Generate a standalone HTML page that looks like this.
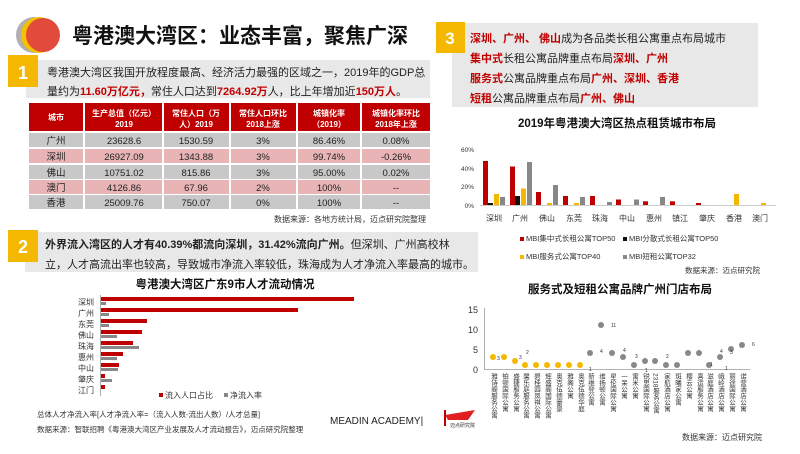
<!DOCTYPE html>
<html><head><meta charset="utf-8"><style>
body{margin:0;width:800px;height:449px;overflow:hidden;background:#fff;font-family:"Liberation Sans","Noto Sans CJK SC",sans-serif;}
svg text{font-family:"Liberation Sans","Noto Sans CJK SC",sans-serif;}
.v{writing-mode:vertical-rl;}
</style></head><body>
<svg width="800" height="449" viewBox="0 0 800 449" xmlns="http://www.w3.org/2000/svg">
<circle cx="34" cy="35" r="18" fill="#b0b0b0"/>
<circle cx="39" cy="35" r="18" fill="#f5c000"/>
<circle cx="43" cy="35" r="17" fill="#e24a3c"/>
<text x="72" y="43" font-size="21" font-weight="bold" fill="#111">粤港澳大湾区：业态丰富，聚焦广深</text>
<rect x="26" y="60" width="404" height="38" fill="#e8e8e8"/>
<rect x="8" y="55" width="30" height="32" fill="#f5b800"/>
<text x="23" y="79" font-size="18" font-weight="bold" fill="#fff" text-anchor="middle">1</text>
<text x="47" y="76" font-size="11" fill="#222">粤港澳大湾区我国开放程度最高、经济活力最强的区域之一，2019年的GDP总</text>
<text x="47" y="95" font-size="11" fill="#222">量约为<tspan fill="#c00000" font-weight="bold">11.60万亿元，</tspan>常住人口达到<tspan fill="#c00000" font-weight="bold">7264.92万</tspan>人，比上年增加近<tspan fill="#c00000" font-weight="bold">150万人</tspan>。</text>
<g font-size="8" font-weight="bold" fill="#fff" text-anchor="middle">
<rect x="29" y="103" width="54" height="28" fill="#c00000"/><text x="56" y="120">城市</text>
<rect x="85" y="103" width="77" height="28" fill="#c00000"/><text x="124" y="116">生产总值（亿元）</text><text x="124" y="127">2019</text>
<rect x="164" y="103" width="65" height="28" fill="#c00000"/><text x="196" y="116">常住人口（万</text><text x="196" y="127">人）2019</text>
<rect x="231" y="103" width="65" height="28" fill="#c00000"/><text x="263" y="116">常住人口环比</text><text x="263" y="127">2018上涨</text>
<rect x="298" y="103" width="62" height="28" fill="#c00000"/><text x="329" y="116">城镇化率</text><text x="329" y="127">（2019）</text>
<rect x="362" y="103" width="68" height="28" fill="#c00000"/><text x="396" y="116">城镇化率环比</text><text x="396" y="127">2018年上涨</text>
</g>
<g font-size="9.5" fill="#222" text-anchor="middle">
<g fill="#c8c8c8"><rect x="29" y="133" width="54" height="14"/><rect x="85" y="133" width="77" height="14"/><rect x="164" y="133" width="65" height="14"/><rect x="231" y="133" width="65" height="14"/><rect x="298" y="133" width="62" height="14"/><rect x="362" y="133" width="68" height="14"/></g>
<g fill="#e8b4b6"><rect x="29" y="149" width="54" height="14"/><rect x="85" y="149" width="77" height="14"/><rect x="164" y="149" width="65" height="14"/><rect x="231" y="149" width="65" height="14"/><rect x="298" y="149" width="62" height="14"/><rect x="362" y="149" width="68" height="14"/></g>
<g fill="#c8c8c8"><rect x="29" y="165" width="54" height="14"/><rect x="85" y="165" width="77" height="14"/><rect x="164" y="165" width="65" height="14"/><rect x="231" y="165" width="65" height="14"/><rect x="298" y="165" width="62" height="14"/><rect x="362" y="165" width="68" height="14"/></g>
<g fill="#e8b4b6"><rect x="29" y="180" width="54" height="14"/><rect x="85" y="180" width="77" height="14"/><rect x="164" y="180" width="65" height="14"/><rect x="231" y="180" width="65" height="14"/><rect x="298" y="180" width="62" height="14"/><rect x="362" y="180" width="68" height="14"/></g>
<g fill="#c8c8c8"><rect x="29" y="195" width="54" height="14"/><rect x="85" y="195" width="77" height="14"/><rect x="164" y="195" width="65" height="14"/><rect x="231" y="195" width="65" height="14"/><rect x="298" y="195" width="62" height="14"/><rect x="362" y="195" width="68" height="14"/></g>
<text x="56" y="144">广州</text><text x="124" y="144">23628.6</text><text x="196" y="144">1530.59</text><text x="263" y="144">3%</text><text x="329" y="144">86.46%</text><text x="396" y="144">0.08%</text>
<text x="56" y="160">深圳</text><text x="124" y="160">26927.09</text><text x="196" y="160">1343.88</text><text x="263" y="160">3%</text><text x="329" y="160">99.74%</text><text x="396" y="160">-0.26%</text>
<text x="56" y="176">佛山</text><text x="124" y="176">10751.02</text><text x="196" y="176">815.86</text><text x="263" y="176">3%</text><text x="329" y="176">95.00%</text><text x="396" y="176">0.02%</text>
<text x="56" y="191">澳门</text><text x="124" y="191">4126.86</text><text x="196" y="191">67.96</text><text x="263" y="191">2%</text><text x="329" y="191">100%</text><text x="396" y="191">--</text>
<text x="56" y="206">香港</text><text x="124" y="206">25009.76</text><text x="196" y="206">750.07</text><text x="263" y="206">0%</text><text x="329" y="206">100%</text><text x="396" y="206">--</text>
</g>
<text x="426" y="222" font-size="8" fill="#333" text-anchor="end">数据来源：各地方统计局，迈点研究院整理</text>
<rect x="25" y="232" width="453" height="40" fill="#e8e8e8"/>
<rect x="8" y="230" width="30" height="32" fill="#f5b800"/>
<text x="23" y="253" font-size="18" font-weight="bold" fill="#fff" text-anchor="middle">2</text>
<text x="45" y="248" font-size="11" fill="#222"><tspan font-weight="bold">外界流入湾区的人才有40.39%都流向深圳，31.42%流向广州。</tspan>但深圳、广州高校林</text>
<text x="45" y="268" font-size="11" fill="#222">立，人才高流出率也较高，导致城市净流入率较低，珠海成为人才净流入率最高的城市。</text>
<text x="225" y="288" font-size="11.5" font-weight="bold" fill="#111" text-anchor="middle">粤港澳大湾区广东9市人才流动情况</text>
<line x1="100.5" y1="295" x2="100.5" y2="396" stroke="#999" stroke-width="0.8"/>
<g font-size="8" fill="#333" text-anchor="end">
<text x="94" y="305">深圳</text><text x="94" y="316">广州</text><text x="94" y="327">东莞</text><text x="94" y="338">佛山</text><text x="94" y="349">珠海</text><text x="94" y="360">惠州</text><text x="94" y="371">中山</text><text x="94" y="382">肇庆</text><text x="94" y="393">江门</text>
</g>
<g fill="#c00000">
<rect x="101" y="297" width="253" height="4"/><rect x="101" y="308" width="197" height="4"/><rect x="101" y="319" width="46" height="4"/><rect x="101" y="330" width="41" height="4"/><rect x="101" y="341" width="32" height="4"/><rect x="101" y="352" width="22" height="4"/><rect x="101" y="363" width="18" height="4"/><rect x="101" y="374" width="4" height="4"/><rect x="101" y="385" width="4" height="4"/>
</g>
<g fill="#888">
<rect x="101" y="302" width="5" height="3"/><rect x="101" y="313" width="8" height="3"/><rect x="101" y="324" width="8" height="3"/><rect x="101" y="335" width="16" height="3"/><rect x="101" y="346" width="38" height="3"/><rect x="101" y="357" width="16" height="3"/><rect x="101" y="368" width="17" height="3"/><rect x="101" y="379" width="11" height="3"/>
</g>
<rect x="159" y="393" width="4" height="4" fill="#c00000"/><text x="165" y="398" font-size="8" fill="#333">流入人口占比</text>
<rect x="224" y="393" width="4" height="4" fill="#888"/><text x="230" y="398" font-size="8" fill="#333">净流入率</text>
<text x="37" y="417" font-size="7.5" fill="#333">总体人才净流入率[人才净流入率=（流入人数-流出人数）/人才总量]</text>
<text x="37" y="432" font-size="7.5" fill="#333">数据来源：智联招聘《粤港澳大湾区产业发展及人才流动报告》，迈点研究院整理</text>
<text x="330" y="424" font-size="10" fill="#222">MEADIN ACADEMY|</text>
<rect x="452" y="23" width="306" height="84" fill="#e8e8e8"/>
<rect x="436" y="22" width="29" height="31" fill="#f5b800"/>
<text x="450" y="44" font-size="17" font-weight="bold" fill="#fff" text-anchor="middle">3</text>
<g font-size="11" fill="#222">
<text x="470" y="42"><tspan fill="#c00000" font-weight="bold">深圳、广州、 佛山</tspan>成为各品类长租公寓重点布局城市</text>
<text x="470" y="62"><tspan fill="#c00000" font-weight="bold">集中式</tspan>长租公寓品牌重点布局<tspan fill="#c00000" font-weight="bold">深圳、广州</tspan></text>
<text x="470" y="82"><tspan fill="#c00000" font-weight="bold">服务式</tspan>公寓品牌重点布局<tspan fill="#c00000" font-weight="bold">广州、深圳、香港</tspan></text>
<text x="470" y="102"><tspan fill="#c00000" font-weight="bold">短租</tspan>公寓品牌重点布局<tspan fill="#c00000" font-weight="bold">广州、佛山</tspan></text>
</g>
<text x="617" y="127" font-size="11.5" font-weight="bold" fill="#111" text-anchor="middle">2019年粤港澳大湾区热点租赁城市布局</text>
<g font-size="6.5" fill="#333" text-anchor="end">
<text x="474" y="152">60%</text><text x="474" y="171">40%</text><text x="474" y="189">20%</text><text x="474" y="208">0%</text>
</g>
<line x1="480" y1="205.5" x2="776" y2="205.5" stroke="#bbb" stroke-width="0.8"/>
<g fill="#c00000">
<rect x="483" y="161" width="5" height="44"/><rect x="510" y="166.5" width="5" height="38.5"/><rect x="536" y="192" width="5" height="13"/><rect x="563" y="196" width="5" height="9"/><rect x="590" y="196" width="5" height="9"/><rect x="616" y="199.5" width="5" height="5.5"/><rect x="643" y="201.3" width="5" height="3.7"/><rect x="670" y="201.3" width="5" height="3.7"/><rect x="696" y="203" width="5" height="2"/>
</g>
<g fill="#111"><rect x="488" y="203" width="5" height="2"/><rect x="515" y="196" width="5" height="9"/></g>
<g fill="#f5b800">
<rect x="494" y="194" width="5" height="11"/><rect x="521" y="188.5" width="5" height="16.5"/><rect x="547" y="203" width="5" height="2"/><rect x="574" y="203" width="5" height="2"/><rect x="734" y="194" width="5" height="11"/><rect x="761" y="203" width="5" height="2"/>
</g>
<g fill="#888">
<rect x="500" y="197" width="5" height="8"/><rect x="527" y="162" width="5" height="43"/><rect x="553" y="185" width="5" height="20"/><rect x="580" y="197" width="5" height="8"/><rect x="607" y="202" width="5" height="3"/><rect x="634" y="199.5" width="5" height="5.5"/><rect x="660" y="197" width="5" height="8"/>
</g>
<g font-size="8" fill="#333" text-anchor="middle">
<text x="494" y="221">深圳</text><text x="520" y="221">广州</text><text x="547" y="221">佛山</text><text x="574" y="221">东莞</text><text x="600" y="221">珠海</text><text x="627" y="221">中山</text><text x="654" y="221">惠州</text><text x="680" y="221">镇江</text><text x="707" y="221">肇庆</text><text x="734" y="221">香港</text><text x="760" y="221">澳门</text>
</g>
<g font-size="7.5" fill="#333">
<rect x="520" y="237" width="4" height="4" fill="#c00000"/><text x="526" y="241">MBI集中式长租公寓TOP50</text>
<rect x="623" y="237" width="4" height="4" fill="#111"/><text x="629" y="241">MBI分散式长租公寓TOP50</text>
<rect x="520" y="255" width="4" height="4" fill="#f5b800"/><text x="526" y="259">MBI服务式公寓TOP40</text>
<rect x="623" y="255" width="4" height="4" fill="#888"/><text x="629" y="259">MBI短租公寓TOP32</text>
<text x="685" y="273">数据来源：迈点研究院</text>
</g>
<text x="620" y="293" font-size="11.5" font-weight="bold" fill="#111" text-anchor="middle">服务式及短租公寓品牌广州门店布局</text>
<g font-size="9" fill="#333" text-anchor="end">
<text x="478" y="313">15</text><text x="478" y="333">10</text><text x="478" y="353">5</text><text x="478" y="373">0</text>
</g>
<line x1="484.5" y1="308" x2="484.5" y2="369" stroke="#999" stroke-width="0.8"/>
<line x1="484" y1="369.5" x2="750" y2="369.5" stroke="#999" stroke-width="0.8"/>
<g fill="#f5b800">
<circle cx="493" cy="357" r="3"/><circle cx="504" cy="357" r="3"/><circle cx="515" cy="361" r="3"/><circle cx="525" cy="365" r="3"/><circle cx="536" cy="365" r="3"/><circle cx="547" cy="365" r="3"/><circle cx="558" cy="365" r="3"/><circle cx="569" cy="365" r="3"/><circle cx="580" cy="365" r="3"/>
</g>
<g fill="#888">
<circle cx="590" cy="353" r="3"/><circle cx="601" cy="325" r="3"/><circle cx="612" cy="353" r="3"/><circle cx="623" cy="357" r="3"/><circle cx="634" cy="365" r="3"/><circle cx="645" cy="361" r="3"/><circle cx="655" cy="361" r="3"/><circle cx="666" cy="365" r="3"/><circle cx="677" cy="365" r="3"/><circle cx="688" cy="353" r="3"/><circle cx="699" cy="353" r="3"/><circle cx="709" cy="365" r="3"/><circle cx="720" cy="357" r="3"/><circle cx="731" cy="349" r="3"/><circle cx="742" cy="345" r="3"/>
</g>
<g font-size="5" fill="#333">
<text x="497" y="360">3</text><text x="519" y="359">3</text><text x="526" y="354">2</text><text x="589" y="371">1</text><text x="600" y="353">4</text><text x="611" y="327">11</text><text x="623" y="352">4</text><text x="635" y="358">3</text><text x="645" y="372">1</text><text x="666" y="358">2</text><text x="710" y="366">1</text><text x="720" y="353">4</text><text x="725" y="370">1</text><text x="730" y="354">3</text><text x="752" y="346">6</text>
</g>
<g font-size="6.5" fill="#333">
<text class="v" x="493" y="373">雅诗阁服务公寓</text><text class="v" x="504" y="373">铂顿国际公寓</text><text class="v" x="515" y="373">盛捷服务公寓</text><text class="v" x="525" y="373">馨乐庭服务公寓</text><text class="v" x="536" y="373">碧桂园凤祺公寓</text><text class="v" x="547" y="373">辉盛阁国际公寓</text><text class="v" x="558" y="373">奥克伍德豪景</text><text class="v" x="569" y="373">雅阁公寓</text><text class="v" x="580" y="373">奥克伍德华庭</text><text class="v" x="590" y="373">新维登公寓</text><text class="v" x="601" y="373">维扬顿公寓</text><text class="v" x="612" y="373">星伦国际公寓</text><text class="v" x="623" y="373">一呆公寓</text><text class="v" x="634" y="373">寓米公寓</text><text class="v" x="645" y="373">锐思国际公寓</text><text class="v" x="655" y="373">2318服务公寓</text><text class="v" x="666" y="373">家航酒店公寓</text><text class="v" x="677" y="373">斑曦家公寓</text><text class="v" x="688" y="373">樱云公寓</text><text class="v" x="699" y="373">喜运服务公寓</text><text class="v" x="709" y="373">滋庭酒店公寓</text><text class="v" x="720" y="373">峨岭酒店公寓</text><text class="v" x="731" y="373">丽途国际公寓</text><text class="v" x="742" y="373">诺营酒店公寓</text>
</g>
<polygon points="445,415 475,410 468,420 448,420" fill="#e02020"/>
<rect x="444" y="410" width="2" height="16" fill="#c00000"/>
<text x="450" y="427" font-size="5" fill="#333">迈点研究院</text>
<text x="682" y="440" font-size="8" fill="#333">数据来源：迈点研究院</text>
</svg>
</body></html>
